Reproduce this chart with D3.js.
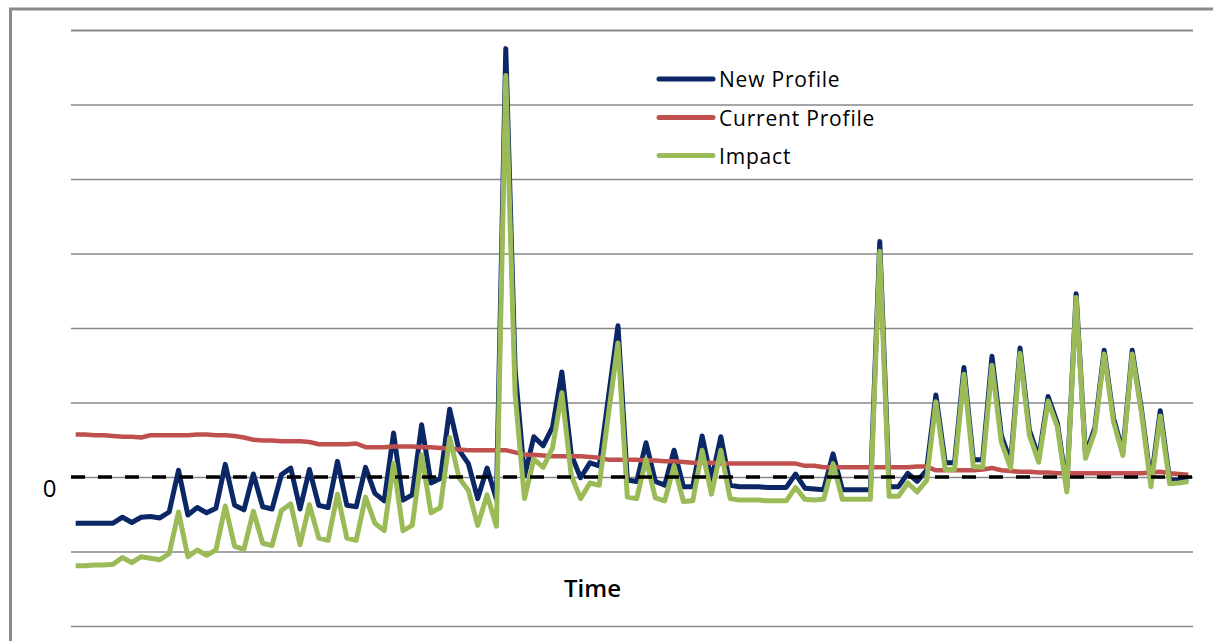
<!DOCTYPE html>
<html>
<head>
<meta charset="utf-8">
<script src="https://cdn.jsdelivr.net/npm/d3@7"></script>
<style>
  body { margin: 0; background: #fff; }
  svg { display: block; font-family: "Open Sans", "Noto Sans", sans-serif; }
</style>
</head>
<body>
<div id="chart"></div>
<script>
// values, one per time step (120 steps)
const newProfile = [
  -62, -62, -62, -62, -62, -54, -61, -54, -53, -55,
  -47, 9, -51, -41, -48, -42, 17, -38, -44, 4,
  -40, -43, 3, 12, -43, 10, -38, -41, 21, -38,
  -40, 13, -22, -32, 59, -31, -24, 70, -8, -2,
  91, 36, 18, -29, 12, -30, 575, 144, 1, 54,
  42, 67, 141, 30, -1, 19, 15, 109, 203, -4,
  -6, 46, -6, -11, 36, -13, -13, 55, -4, 54,
  -11, -13, -13, -13, -14, -14, -14, 4, -15, -16,
  -17, 31, -17, -17, -17, -17, 316, -13, -13, 5,
  -6, 9, 110, 19, 19, 147, 23, 23, 162, 56,
  20, 173, 63, 26, 108, 72, -15, 246, 30, 66,
  170, 79, 34, 170, 90, -7, 89, -4, -4, -3
];

const currentProfile = [
  57, 57, 56, 56, 55, 54, 54, 53, 56, 56,
  56, 56, 56, 57, 57, 56, 56, 55, 53, 50,
  49, 49, 48, 48, 48, 47, 44, 44, 44, 44,
  45, 40, 40, 40, 41, 41, 41, 40, 40, 39,
  38, 37, 36, 36, 36, 36, 36, 33, 30, 30,
  29, 28, 28, 28, 28, 27, 26, 23, 23, 23,
  23, 22, 22, 21, 21, 20, 19, 19, 19, 18,
  18, 18, 18, 18, 18, 18, 18, 18, 15, 15,
  13, 13, 13, 13, 13, 13, 13, 13, 13, 13,
  14, 14, 9, 9, 9, 9, 9, 10, 12, 9,
  8, 7, 7, 6, 6, 5, 5, 5, 5, 5,
  5, 5, 5, 5, 5, 6, 7, 5, 4, 3
];

const impact = [
  -119, -119, -118, -118, -117, -108, -115, -107, -109, -111,
  -103, -47, -107, -98, -105, -98, -39, -93, -97, -46,
  -89, -92, -45, -36, -91, -37, -82, -85, -23, -82,
  -85, -27, -62, -72, 18, -72, -65, 30, -48, -41,
  53, -1, -18, -65, -24, -66, 539, 111, -29, 24,
  13, 39, 113, 2, -29, -8, -11, 86, 180, -27,
  -29, 24, -28, -32, 15, -33, -32, 36, -23, 36,
  -29, -31, -31, -31, -32, -32, -32, -14, -30, -31,
  -30, 18, -30, -30, -30, -30, 303, -26, -26, -8,
  -20, -5, 101, 10, 10, 138, 14, 13, 150, 47,
  12, 166, 56, 20, 102, 67, -20, 241, 25, 61,
  165, 74, 29, 165, 85, -13, 82, -9, -8, -6
];

const seriesNames = ["New Profile", "Current Profile", "Impact"];
const seriesColors = ["#0c2766", "#c0504d", "#9bbb59"];
const yTicks = [-200, -100, 0, 100, 200, 300, 400, 500, 600];

const width = 1213, height = 641;
const plot = { left: 71, right: 1193, top: 30, bottom: 626 };

function render() {
    const svg = d3.select('#chart')
        .append('svg')
        .attr('width', width)
        .attr('height', height);

    // outer frame
    svg.append('rect')
        .attr('x', 10.5)
        .attr('y', 9)
        .attr('width', 1400)
        .attr('height', 800)
        .attr('fill', 'none')
        .attr('stroke', '#8a8a8a')
        .attr('stroke-width', 3);

    const x = d3.scalePoint()
        .domain(d3.range(newProfile.length))
        .range([plot.left, plot.right])
        .padding(0.5);

    const y = d3.scaleLinear()
        .domain([yTicks[0], yTicks[yTicks.length - 1]])
        .range([plot.bottom, plot.top]);

    // gridlines
    const grid = svg.append('g')
        .attr('class', 'grid')
        .attr('transform', `translate(${plot.left},0)`)
        .call(d3.axisLeft(y)
            .tickValues(yTicks)
            .tickSize(-(plot.right - plot.left))
            .tickFormat(''));
    grid.select('.domain').remove();
    grid.selectAll('.tick line')
        .attr('stroke', '#878787')
        .attr('stroke-width', d => d === yTicks[yTicks.length - 1] ? 2 : 1.3);

    svg.append('text')
        .attr('x', 49.5)
        .attr('y', y(0) + 19.5)
        .attr('text-anchor', 'middle')
        .attr('font-size', 24)
        .attr('fill', '#000')
        .text('0');

    const line = d3.line()
        .x((d, i) => x(i))
        .y(d => y(d));

    const allSeries = [newProfile, currentProfile, impact];
    const widths = [5, 4.5, 5];

    svg.append('g')
        .attr('class', 'lines')
        .selectAll('path')
        .data(allSeries)
        .enter()
        .append('path')
        .attr('d', line)
        .attr('fill', 'none')
        .attr('stroke', (d, i) => seriesColors[i])
        .attr('stroke-width', (d, i) => widths[i])
        .attr('stroke-linejoin', 'round');

    // dashed zero line
    svg.append('line')
        .attr('x1', plot.left)
        .attr('x2', plot.right)
        .attr('y1', y(0))
        .attr('y2', y(0))
        .attr('stroke', '#000')
        .attr('stroke-width', 3.5)
        .attr('stroke-dasharray', '14,13');

    // axis title
    svg.append('text')
        .attr('x', 592.5)
        .attr('y', 597)
        .attr('text-anchor', 'middle')
        .attr('font-size', 24)
        .attr('font-weight', 600)
        .attr('fill', '#000')
        .text('Time');

    // legend
    const legend = svg.append('g')
        .attr('class', 'legend')
        .selectAll('g')
        .data(seriesNames)
        .enter()
        .append('g')
        .attr('transform', (d, i) => `translate(659,${[79, 117.5, 155.5][i]})`);

    legend.append('line')
        .attr('x1', 0)
        .attr('x2', 54)
        .attr('stroke', (d, i) => seriesColors[i])
        .attr('stroke-width', 5)
        .attr('stroke-linecap', 'round');

    legend.append('text')
        .attr('x', 60)
        .attr('y', 8)
        .attr('font-size', 21)
        .attr('letter-spacing', 0.8)
        .attr('fill', '#000')
        .text(d => d);
}

render();
</script>
</body>
</html>
